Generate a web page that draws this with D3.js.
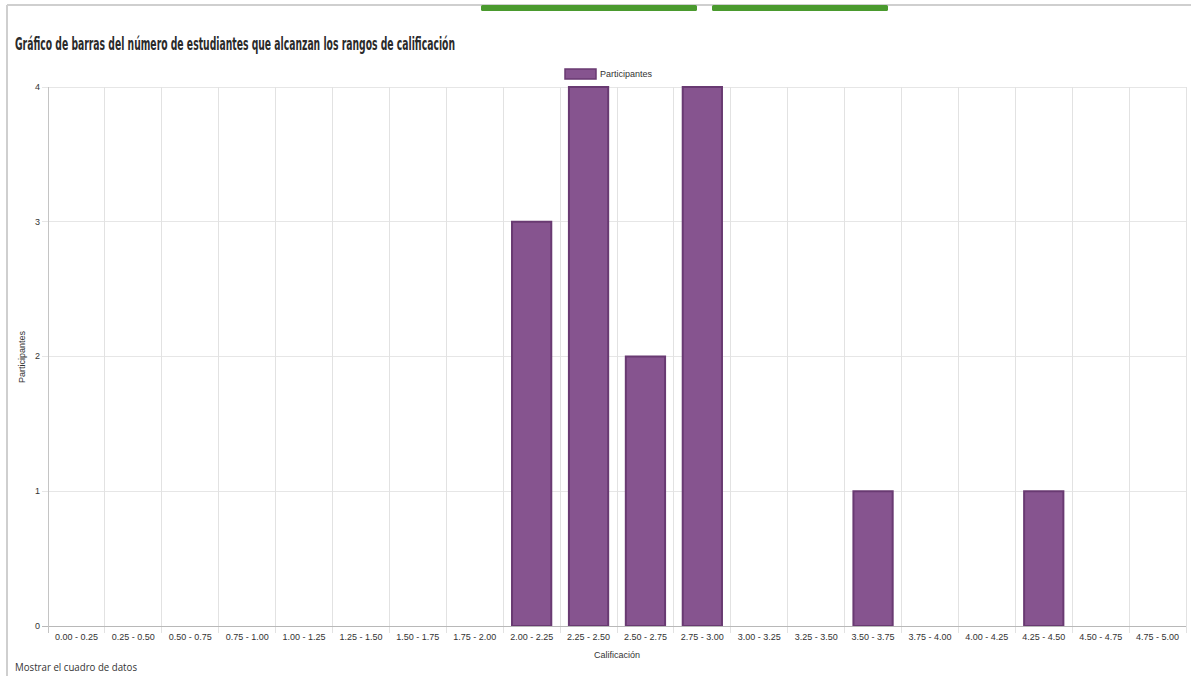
<!DOCTYPE html>
<html>
<head>
<meta charset="utf-8">
<script src="https://cdn.jsdelivr.net/npm/d3@7"></script>
<style>
  html, body { margin: 0; padding: 0; background: #fff; }
  svg { display: block; }
</style>
</head>
<body>
<svg id="chart" width="1191" height="676"></svg>
<script>
const categories = ["0.00 - 0.25","0.25 - 0.50","0.50 - 0.75","0.75 - 1.00","1.00 - 1.25","1.25 - 1.50","1.50 - 1.75","1.75 - 2.00","2.00 - 2.25","2.25 - 2.50","2.50 - 2.75","2.75 - 3.00","3.00 - 3.25","3.25 - 3.50","3.50 - 3.75","3.75 - 4.00","4.00 - 4.25","4.25 - 4.50","4.50 - 4.75","4.75 - 5.00"];
const participantes = [0,0,0,0,0,0,0,0,3,4,2,4,0,0,1,0,0,1,0,0];
const yTicks = [0,1,2,3,4];
const seriesName = "Participantes";
const titleText = "Gráfico de barras del número de estudiantes que alcanzan los rangos de calificación";
const xTitle = "Calificación";
const yTitle = "Participantes";
const footerText = "Mostrar el cuadro de datos";

const svg = d3.select("#chart");

// page frame
svg.append("line").attr("x1", 7).attr("x2", 1191).attr("y1", 5).attr("y2", 5)
  .attr("stroke", "#cfcfcf").attr("stroke-width", 2);
svg.append("line").attr("x1", 7).attr("x2", 7).attr("y1", 5).attr("y2", 676)
  .attr("stroke", "#cfcfcf").attr("stroke-width", 2);
// green tabs
[[481, 697], [712, 888]].forEach(([a, b]) => {
  svg.append("rect").attr("x", a).attr("y", 5).attr("width", b - a).attr("height", 6)
    .attr("rx", 1.5).attr("fill", "#4a9a2e");
});

// title
svg.append("text").attr("x", 15).attr("y", 50)
  .attr("font-family", "'Liberation Sans Narrow', 'DejaVu Sans Condensed', sans-serif")
  .attr("font-size", 18).attr("font-weight", 700).attr("fill", "#2a2a2a")
  .attr("textLength", 440).attr("lengthAdjust", "spacingAndGlyphs")
  .text(titleText);

const margin = { left: 48, right: 1186, top: 87, bottom: 626 };
const x = d3.scaleBand().domain(categories).range([margin.left, margin.right]).paddingInner(0).paddingOuter(0);
const y = d3.scaleLinear().domain([0, 4]).range([margin.bottom, margin.top]);

// horizontal grid
svg.append("g").selectAll("line").data(yTicks.filter(d => d > 0)).join("line")
  .attr("x1", margin.left - 6).attr("x2", margin.right)
  .attr("y1", d => y(d)).attr("y2", d => y(d))
  .attr("stroke", "#e6e6e6").attr("stroke-width", 1).attr("shape-rendering", "crispEdges");

// vertical grid (category boundaries)
const bounds = categories.map(c => x(c)).concat([margin.right]).slice(1);
svg.append("g").selectAll("line").data(bounds).join("line")
  .attr("x1", d => d).attr("x2", d => d)
  .attr("y1", margin.top).attr("y2", margin.bottom + 7)
  .attr("stroke", "#e2e2e2").attr("stroke-width", 1).attr("shape-rendering", "crispEdges");

// bars
const bw = x.bandwidth() * 0.69;
svg.append("g").selectAll("rect").data(participantes.map((v, i) => ({ c: categories[i], v })).filter(d => d.v > 0)).join("rect")
  .attr("x", d => x(d.c) + (x.bandwidth() - bw) / 2)
  .attr("y", d => y(d.v))
  .attr("width", bw)
  .attr("height", d => y(0) - y(d.v))
  .attr("fill", "#86548f")
  .attr("stroke", "#693a72").attr("stroke-width", 2);

// axes lines
svg.append("line").attr("x1", margin.left).attr("x2", margin.left)
  .attr("y1", margin.top).attr("y2", margin.bottom)
  .attr("stroke", "#c4c4c4").attr("shape-rendering", "crispEdges");
svg.append("line").attr("x1", margin.left - 6).attr("x2", margin.right)
  .attr("y1", margin.bottom).attr("y2", margin.bottom)
  .attr("stroke", "#b8b8b8").attr("shape-rendering", "crispEdges");
svg.append("line").attr("x1", margin.left).attr("x2", margin.left)
  .attr("y1", margin.bottom).attr("y2", margin.bottom + 7)
  .attr("stroke", "#c4c4c4").attr("shape-rendering", "crispEdges");

// y tick labels
svg.append("g").selectAll("text").data(yTicks).join("text")
  .attr("x", 40).attr("y", d => y(d)).attr("dy", "0.32em")
  .attr("text-anchor", "end")
  .attr("font-family", "'Liberation Sans', Arial, sans-serif").attr("font-size", 9).attr("fill", "#333")
  .text(d => d);

// x tick labels
svg.append("g").selectAll("text").data(categories).join("text")
  .attr("x", d => x(d) + x.bandwidth() / 2).attr("y", 640)
  .attr("text-anchor", "middle")
  .attr("font-family", "'Liberation Sans', Arial, sans-serif").attr("font-size", 9).attr("fill", "#333")
  .text(d => d);

// axis titles
svg.append("text").attr("x", 617).attr("y", 658).attr("text-anchor", "middle")
  .attr("font-family", "'Liberation Sans', Arial, sans-serif").attr("font-size", 9).attr("fill", "#333")
  .text(xTitle);
svg.append("text").attr("transform", "translate(25,357) rotate(-90)").attr("text-anchor", "middle")
  .attr("font-family", "'Liberation Sans', Arial, sans-serif").attr("font-size", 9).attr("fill", "#333")
  .text(yTitle);

// legend
svg.append("rect").attr("x", 565).attr("y", 69).attr("width", 31).attr("height", 10)
  .attr("fill", "#86548f").attr("stroke", "#693a72").attr("stroke-width", 1.5);
svg.append("text").attr("x", 600).attr("y", 77)
  .attr("font-family", "'Liberation Sans', Arial, sans-serif").attr("font-size", 9).attr("fill", "#333")
  .text(seriesName);

// footer
svg.append("text").attr("x", 15).attr("y", 671)
  .attr("font-family", "'Open Sans', Lato, sans-serif").attr("font-size", 10.5).attr("fill", "#333")
  .attr("textLength", 122).attr("lengthAdjust", "spacingAndGlyphs")
  .text(footerText);
</script>
</body>
</html>
